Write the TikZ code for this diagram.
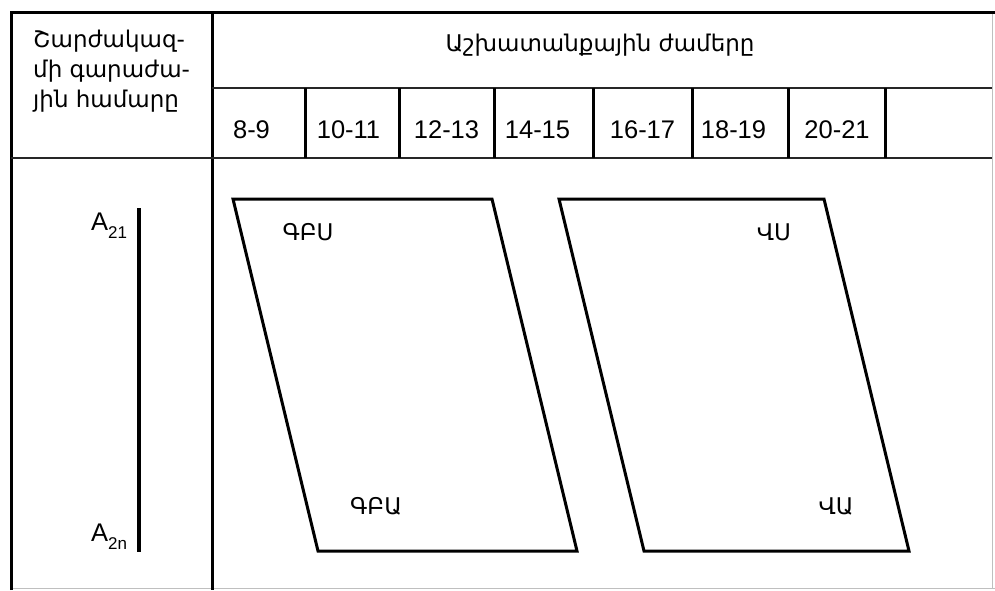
\documentclass[tikz,border=0pt]{standalone}
\usepackage{fontspec}
\setmainfont{Liberation Sans}
\newfontfamily\arm{DejaVu Sans}
\newcommand\lowsub[1]{\raisebox{-0.32em}{\fontsize{17}{20}\selectfont #1}}
\begin{document}
\begin{tikzpicture}[x=1pt,y=-1pt,
  heavy/.style={line width=3pt},
  light/.style={line width=1.3pt, black!85},
  faint/.style={line width=1pt, black!25},
  pgram/.style={line width=3pt, line join=miter},
  num/.style={font=\fontsize{25.5}{30}\selectfont, inner sep=0pt, anchor=base},
  armt/.style={font=\fontsize{23}{30}\selectfont\arm, inner sep=0pt}]
\useasboundingbox (0,0) rectangle (995,590);
% frame
\draw[faint] (11,588) -- (995,588);
\draw[faint] (992,12) -- (992,588);
\draw[heavy] (11,590) -- (11,12) -- (995,12);
\draw[heavy] (212,12) -- (212,590);
\draw[light] (212,88) -- (992,88);
\draw[light] (11,158) -- (992,158);
\foreach \cx in {305,399,494,593,692,788,885}
  \draw[heavy] (\cx,88) -- (\cx,158);
% header texts
\node[armt, anchor=base west] (h1) at (33,47) {Շարժակազ-};
\node[armt, anchor=base west] (h2) at (33,77) {մի գարաժա-};
\node[armt, anchor=base west] (h3) at (33,107) {յին համարը};
\node[armt] (title) at (600,45) {Աշխատանքային ժամերը};
\node[num] (c1) at (251.5,138) {8-9};
\node[num] (c2) at (348.5,138) {10-11};
\node[num] (c3) at (446.5,138) {12-13};
\node[num] (c4) at (537.5,138) {14-15};
\node[num] (c5) at (642.5,138) {16-17};
\node[num] (c6) at (733.5,138) {18-19};
\node[num] (c7) at (837,138) {20-21};
% A labels and bar
\node[num, anchor=base west] (a1) at (91,230) {A\lowsub{21}};
\node[num, anchor=base west] (an) at (91,541) {A\lowsub{2n}};
\draw[line width=3.5pt] (139,208) -- (139,552);
% parallelograms
\draw[pgram] (233,199) -- (492,199) -- (577,551) -- (318,551) -- cycle;
\draw[pgram] (559,199) -- (824,199) -- (909,551) -- (644,551) -- cycle;
\node[armt] (gbs) at (308,232) {ԳԲՍ};
\node[armt] (vs) at (774,232) {ՎՍ};
\node[armt] (gba) at (376,506) {ԳԲԱ};
\node[armt] (va) at (836,506) {ՎԱ};
\end{tikzpicture}
\end{document}
